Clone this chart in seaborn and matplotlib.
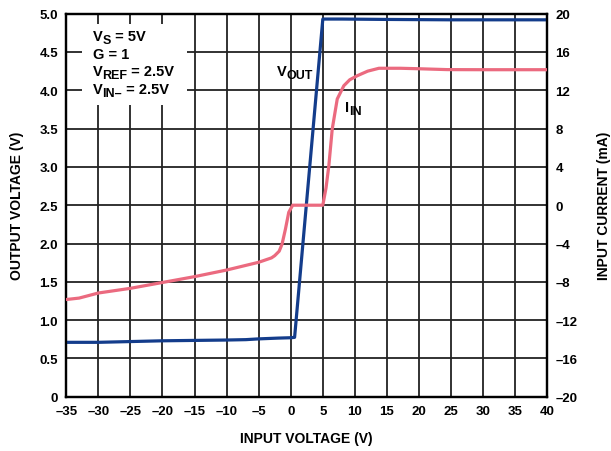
import matplotlib
matplotlib.use("Agg")
import matplotlib.pyplot as plt
import matplotlib.transforms as mtransforms
from matplotlib.patches import Rectangle
import seaborn as sns
import pandas as pd

# ---- data ----
vout_x = [-35, -30, -25, -20, -15, -10, -7, -5, -2, 0, 0.6, 5.0, 8, 15, 25, 40]
vout_y = [0.71, 0.71, 0.72, 0.73, 0.735, 0.74, 0.745, 0.755, 0.765, 0.77, 0.775, 4.93, 4.93, 4.925, 4.92, 4.92]

iin_x = [-35, -33, -30, -25, -20, -15, -10, -5, -3, -2.5, -1.8, -1.35, -0.83, -0.31, 0.3, 5.0,
         5.5, 5.94, 6.47, 7.25, 8.28, 9.2, 10.37, 12, 13.75, 17.1, 20, 24.4, 30, 40]
iin_y = [-9.85, -9.7, -9.17, -8.68, -8.07, -7.46, -6.77, -5.96, -5.5, -5.27, -4.8, -4.05, -2.5, -0.74, 0.0, 0.0,
         1.8, 4.13, 7.96, 11.09, 12.48, 13.1, 13.52, 14.0, 14.3, 14.3, 14.25, 14.16, 14.15, 14.15]

x_ticks = [-35, -30, -25, -20, -15, -10, -5, 0, 5, 10, 15, 20, 25, 30, 35, 40]
y_ticks = [0, 0.5, 1.0, 1.5, 2.0, 2.5, 3.0, 3.5, 4.0, 4.5, 5.0]
y2_ticks = [-20, -16, -12, -8, -4, 0, 4, 8, 12, 16, 20]

box_lines = [("V", "S", " = 5V"), ("G = 1", "", ""), ("V", "REF", " = 2.5V"), ("V", "IN\u2013", " = 2.5V")]


def fmt(v):
    s = str(v) if not isinstance(v, float) else f"{v:.1f}"
    if v == 0:
        s = "0"
    return s.replace("-", "\u2013")


sns.set_style("white")
plt.rcParams['font.family'] = ['Liberation Sans', 'DejaVu Sans']
plt.rcParams['text.color'] = 'black'
plt.rcParams['axes.labelcolor'] = 'black'
plt.rcParams['xtick.color'] = 'black'
plt.rcParams['ytick.color'] = 'black'

BLUE = "#133c8b"
PINK = "#eb6a7f"

fig = plt.figure(figsize=(6.11, 4.52), dpi=100)
ax = fig.add_axes([0.1085, 0.1201, 0.7872, 0.8474])
ax2 = ax.twinx()

df_v = pd.DataFrame({"x": vout_x, "y": vout_y})
df_i = pd.DataFrame({"x": iin_x, "y": iin_y})

sns.lineplot(data=df_v, x="x", y="y", ax=ax, color=BLUE, lw=2.3, zorder=5, sort=False)
sns.lineplot(data=df_i, x="x", y="y", ax=ax2, color=PINK, lw=2.3, zorder=5, sort=False)

ax.set_xlim(-35, 40)
ax.set_ylim(0, 5)
ax2.set_ylim(-20, 20)

ax.set_xticks(x_ticks)
ax.set_xticklabels([fmt(v) for v in x_ticks], fontsize=9.5, fontweight='bold')
ax.set_yticks(y_ticks)
ax.set_yticklabels([fmt(v) for v in y_ticks], fontsize=9.5, fontweight='bold')
ax2.set_yticks(y2_ticks)
ax2.set_yticklabels([fmt(v) for v in y2_ticks], fontsize=9.5, fontweight='bold')

for a in (ax, ax2):
    a.tick_params(length=0, pad=6, colors='black')
    for s in a.spines.values():
        s.set_color("black")
        s.set_linewidth(1.6)

ax.grid(True, color="#222222", lw=1.3)
ax.set_axisbelow(True)

ax.set_xlabel("INPUT VOLTAGE (V)", fontsize=10, fontweight='bold', labelpad=10, color='black')
ax.set_ylabel("OUTPUT VOLTAGE (V)", fontsize=10, fontweight='bold', labelpad=11, color='black')
ax2.set_ylabel("INPUT CURRENT (mA)", fontsize=10, fontweight='bold', labelpad=14, color='black')
ax2.set_xlabel("")

# white box behind condition text (axes fraction)
ax.add_patch(Rectangle((0.033, 0.762), 0.218, 0.212, transform=ax.transAxes,
                       facecolor='white', edgecolor='none', zorder=1.5))

renderer = fig.canvas.get_renderer()


def sub_text(x, y, main, sub, rest, fs=10.5, sfs=9, drop=3.5):
    t = ax.text(x, y, main, fontsize=fs, fontweight='bold', va='baseline', ha='left',
                zorder=10, color='black')
    w = t.get_window_extent(renderer).width
    if sub:
        tr = mtransforms.offset_copy(ax.transData, fig=fig, x=w, y=-drop, units='dots')
        t2 = ax.text(x, y, sub, fontsize=sfs, fontweight='bold', va='baseline', ha='left',
                     transform=tr, zorder=10, color='black')
        w += t2.get_window_extent(renderer).width
    if rest:
        tr = mtransforms.offset_copy(ax.transData, fig=fig, x=w, y=0, units='dots')
        ax.text(x, y, rest, fontsize=fs, fontweight='bold', va='baseline', ha='left',
                transform=tr, zorder=10, color='black')


box_y = [4.661, 4.418, 4.20, 3.965]
for (m, s, r), yy in zip(box_lines, box_y):
    sub_text(-30.88, yy, m, s, r)

sub_text(-2.23, 4.204, "V", "OUT", "")
sub_text(8.39, 3.734, "I", "IN", "")

fig.savefig("out.png", dpi=100)
